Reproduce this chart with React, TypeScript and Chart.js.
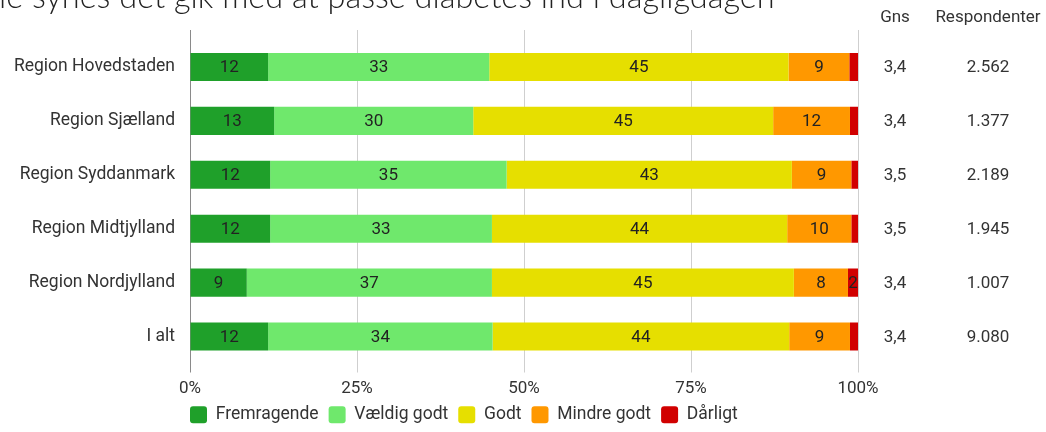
import React, { useEffect, useRef } from "react";
import { Chart, registerables } from "chart.js";

Chart.register(...registerables);

const categories = [
  "Region Hovedstaden",
  "Region Sjælland",
  "Region Syddanmark",
  "Region Midtjylland",
  "Region Nordjylland",
  "I alt",
];
const seriesNames = ["Fremragende", "Vældig godt", "Godt", "Mindre godt", "Dårligt"];
const fremragende = [11.7, 12.6, 12.0, 12.0, 8.5, 11.7];
const vaeldigGodt = [33.1, 29.8, 35.4, 33.2, 36.7, 33.6];
const godt = [44.8, 44.9, 42.7, 44.2, 45.2, 44.4];
const mindreGodt = [9.1, 11.5, 8.9, 9.6, 8.1, 9.1];
const daarligt = [1.3, 1.2, 1.0, 1.0, 1.5, 1.2];
const gns = ["3,4", "3,4", "3,5", "3,5", "3,4", "3,4"];
const respondenter = ["2.562", "1.377", "2.189", "1.945", "1.007", "9.080"];
const xTicks = [0, 25, 50, 75, 100];
const colors = ["#1fa02a", "#6fe86c", "#e6df00", "#ff9800", "#d10000"];
const titleText = "le synes det gik med at passe diabetes ind i dagligdagen";

const FONT = "Roboto";

export default function App() {
  const ref = useRef<HTMLCanvasElement>(null);
  useEffect(() => {
    const canvas = ref.current!;
    const values = [fremragende, vaeldigGodt, godt, mindreGodt, daarligt];

    const labelPlugin = {
      id: "barLabels",
      afterDatasetsDraw(chart: any) {
        const ctx = chart.ctx;
        ctx.save();
        ctx.font = `17px ${FONT}`;
        ctx.fillStyle = "#222";
        ctx.textAlign = "center";
        ctx.textBaseline = "middle";
        chart.data.datasets.forEach((ds: any, di: number) => {
          const meta = chart.getDatasetMeta(di);
          meta.data.forEach((bar: any, i: number) => {
            const v = Math.round(ds.data[i]);
            if (v < 2) return;
            const cx = (bar.x + bar.base) / 2;
            ctx.fillText(String(v), cx, bar.y + 1);
          });
        });
        ctx.restore();
      },
    };

    const sidePlugin = {
      id: "sideCols",
      beforeDraw(chart: any) {
        const lg = chart.legend;
        if (lg) {
          const pad = lg.options.labels.padding;
          lg.left = 190 - pad;
          lg.top = 415 - 9 - pad;
        }
      },
      afterDraw(chart: any) {
        const ctx = chart.ctx;
        const y = chart.scales.y;
        ctx.save();
        ctx.textAlign = "center";
        ctx.textBaseline = "middle";
        ctx.fillStyle = "#333";
        ctx.font = `17px ${FONT}`;
        ctx.fillText("Gns", 895, 18);
        ctx.fillText("Respondenter", 988, 18);
        categories.forEach((_, i) => {
          const yy = y.getPixelForValue(i) + 1;
          ctx.fillText(gns[i], 895, yy);
          ctx.fillText(respondenter[i], 988, yy);
        });
        ctx.font = `300 32.5px Lato`;
        ctx.fillStyle = "#222";
        ctx.textAlign = "left";
        ctx.textBaseline = "alphabetic";
        ctx.fillText(titleText, -1, 8);
        ctx.restore();
      },
    };

    const gridColor = (c: any) => (c.tick && c.tick.value === 0 ? "#8a8a8a" : "#cfcfcf");

    const chart = new Chart(canvas, {
      type: "bar",
      data: {
        labels: categories,
        datasets: seriesNames.map((name, k) => ({
          label: name,
          data: values[k],
          backgroundColor: colors[k],
          borderWidth: 0,
          barPercentage: 0.52,
          categoryPercentage: 1,
          xAxisID: "x",
        })),
      },
      options: {
        indexAxis: "y",
        animation: false,
        responsive: false,
        events: [],
        layout: { padding: { left: 0, right: 188, top: 30, bottom: 0 } },
        plugins: {
          legend: {
            position: "bottom",
            align: "start",
            labels: {
              font: { family: FONT, size: 17.5 },
              color: "#333",
              boxWidth: 17,
              boxHeight: 17,
              padding: 10,
              useBorderRadius: true,
              borderRadius: 3,
            },
          },
          tooltip: { enabled: false },
        },
        scales: {
          x: {
            type: "linear",
            position: "bottom",
            stacked: true,
            min: 0,
            max: 100,
            afterBuildTicks: (s: any) => {
              s.ticks = xTicks.map((v) => ({ value: v }));
            },
            ticks: {
              callback: (v: any) => v + "%",
              font: { family: FONT, size: 17 },
              color: "#333",
              padding: 6,
              maxRotation: 0,
            },
            grid: { color: gridColor, tickLength: 9, lineWidth: 1 },
            border: { display: false },
            afterFit: (s: any) => {
              s.height = 31;
            },
          },
          x2: {
            type: "linear",
            position: "top",
            display: true,
            min: 0,
            max: 100,
            afterBuildTicks: (s: any) => {
              s.ticks = xTicks.map((v) => ({ value: v }));
            },
            ticks: { display: false },
            grid: { color: gridColor, tickLength: 10, drawOnChartArea: false },
            border: { display: false },
            afterFit: (s: any) => {
              s.height = 10;
            },
          },
          y: {
            stacked: true,
            ticks: {
              font: { family: FONT, size: 17.5 },
              color: "#333",
              padding: 15,
            },
            grid: { display: false, drawTicks: false },
            border: { display: false },
            afterFit: (s: any) => {
              s.width = 190;
            },
          },
        },
      },
      plugins: [labelPlugin, sidePlugin],
    });
    return () => chart.destroy();
  }, []);

  return (
    <div style={{ position: "absolute", left: 0, top: 0, width: 1046, height: 432, background: "#fff" }}>
      <canvas ref={ref} width={1046} height={432} style={{ display: "block" }} />
    </div>
  );
}
